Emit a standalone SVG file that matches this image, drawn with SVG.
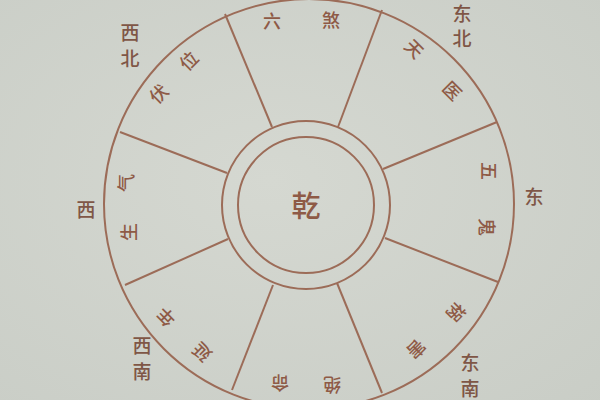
<svg xmlns="http://www.w3.org/2000/svg" width="600" height="400" viewBox="0 0 600 400">
<defs>
<style>
.ln{stroke:#9c6c58;stroke-width:2;fill:none}
.t{font-family:"Noto Sans CJK SC","Noto Sans",sans-serif;fill:#8e5a46;text-anchor:middle;dominant-baseline:central;font-weight:500}
.s{font-size:18px}
.d{font-size:19px;fill:#7f5646}
.c{font-size:29px}
</style>
<radialGradient id="bg" cx="0.45" cy="0.45" r="0.8">
<stop offset="0" stop-color="#d5d8d1"/>
<stop offset="1" stop-color="#c9cdc6"/>
</radialGradient>
</defs>
<rect width="600" height="400" fill="url(#bg)"/>
<g id="wheel">
<circle class="ln" cx="309" cy="204" r="205"/>
<circle class="ln" cx="306" cy="205" r="84"/>
<circle class="ln" cx="306" cy="205" r="68"/>
</g>
<g id="connectors">
<line class="ln" x1="272" y1="127" x2="225" y2="14"/>
<line class="ln" x1="338" y1="127" x2="382" y2="10"/>
<line class="ln" x1="383" y1="169" x2="497" y2="122"/>
<line class="ln" x1="385" y1="238" x2="498" y2="282"/>
<line class="ln" x1="337" y1="283" x2="382" y2="393"/>
<line class="ln" x1="273" y1="285" x2="232" y2="390"/>
<line class="ln" x1="228" y1="239" x2="125" y2="285"/>
<line class="ln" x1="227" y1="173" x2="120" y2="132"/>
</g>
<g id="center"><text class="t c" x="306" y="204">乾</text></g>
<g id="sector-n">
<text class="t s" transform="translate(272,20)">六</text>
<text class="t s" transform="translate(331,19)">煞</text>
</g>
<g id="sector-ne">
<text class="t s" transform="translate(415,48) rotate(45)">天</text>
<text class="t s" transform="translate(453,90) rotate(45)">医</text>
</g>
<g id="sector-e">
<text class="t s" transform="translate(490,171) rotate(90)">五</text>
<text class="t s" transform="translate(488,227) rotate(90)">鬼</text>
</g>
<g id="sector-se">
<text class="t s" transform="translate(457,313) rotate(135)">祸</text>
<text class="t s" transform="translate(417,350) rotate(135)">害</text>
</g>
<g id="sector-s">
<text class="t s" transform="translate(332,386) rotate(180)">绝</text>
<text class="t s" transform="translate(280,384) rotate(180)">命</text>
</g>
<g id="sector-sw">
<text class="t s" transform="translate(201,353) rotate(225)">延</text>
<text class="t s" transform="translate(165,318) rotate(225)">年</text>
</g>
<g id="sector-w">
<text class="t s" transform="translate(128,232) rotate(270)">生</text>
<text class="t s" transform="translate(125,183) rotate(270)">气</text>
</g>
<g id="sector-nw">
<text class="t s" transform="translate(158,93) rotate(315)">伏</text>
<text class="t s" transform="translate(188,60) rotate(315)">位</text>
</g>
<g id="directions">
<text class="t d" x="130" y="31">西</text>
<text class="t d" x="130" y="57">北</text>
<text class="t d" x="462" y="12">东</text>
<text class="t d" x="462" y="37">北</text>
<text class="t d" x="534" y="195">东</text>
<text class="t d" x="470" y="361">东</text>
<text class="t d" x="470" y="387">南</text>
<text class="t d" x="142" y="344">西</text>
<text class="t d" x="142" y="370">南</text>
<text class="t d" x="86" y="208">西</text>
</g>
</svg>
